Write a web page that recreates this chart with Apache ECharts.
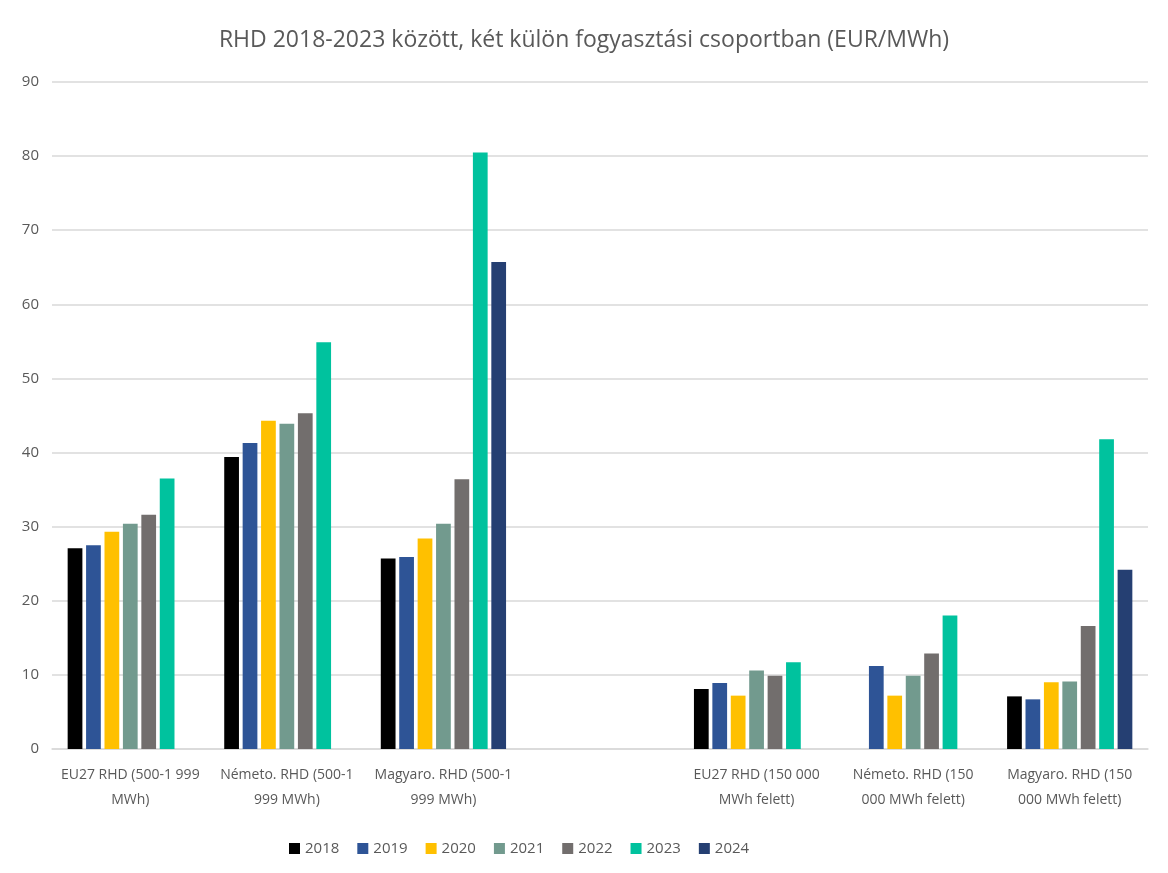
<!DOCTYPE html>
<html>
<head>
<meta charset="utf-8">
<script src="https://cdn.jsdelivr.net/npm/echarts@6/dist/echarts.min.js"></script>
<style>
html,body{margin:0;padding:0;background:#fff;}
#chart{width:1168px;height:873px;}
</style>
</head>
<body>
<div id="chart"></div>
<script>
const titleText = 'RHD 2018-2023 között, két külön fogyasztási csoportban (EUR/MWh)';
const categories = [
  'EU27 RHD (500-1 999\nMWh)',
  'Németo. RHD (500-1\n999 MWh)',
  'Magyaro. RHD (500-1\n999 MWh)',
  '',
  'EU27 RHD (150 000\nMWh felett)',
  'Németo. RHD (150\n000 MWh felett)',
  'Magyaro. RHD (150\n000 MWh felett)'
];
const years = ['2018','2019','2020','2021','2022','2023','2024'];
const v2018 = [27.1, 39.4, 25.7, null, 8.1, null, 7.1];
const v2019 = [27.5, 41.3, 25.9, null, 8.9, 11.2, 6.7];
const v2020 = [29.3, 44.3, 28.4, null, 7.2, 7.2, 9.0];
const v2021 = [30.4, 43.9, 30.4, null, 10.6, 9.9, 9.1];
const v2022 = [31.6, 45.3, 36.4, null, 9.9, 12.9, 16.6];
const v2023 = [36.5, 54.9, 80.5, null, 11.7, 18.0, 41.8];
const v2024 = [null, null, 65.7, null, null, null, 24.2];
const seriesValues = [v2018, v2019, v2020, v2021, v2022, v2023, v2024];
const colors = ['#000000','#2E5496','#FFC000','#729A8E','#726E6D','#00C29E','#253F72'];

const chart = echarts.init(document.getElementById('chart'));
const font = '"Open Sans", "Liberation Sans", sans-serif';
chart.setOption({
  animation: false,
  textStyle: {fontFamily: font},
  title: {
    text: titleText,
    left: 'center',
    top: 24,
    textStyle: {fontSize: 23, fontWeight: 'normal', color: '#595959', fontFamily: font}
  },
  legend: {
    data: years,
    left: 284,
    top: 836,
    itemWidth: 11,
    itemHeight: 11,
    itemGap: 18,
    icon: 'rect',
    textStyle: {fontSize: 15, color: '#595959', fontFamily: font}
  },
  grid: {left: 52, right: 20, top: 82, bottom: 124, containLabel: false},
  xAxis: {
    type: 'category',
    data: categories,
    axisTick: {show: false},
    axisLine: {lineStyle: {color: '#d9d9d9', width: 1.5}},
    axisLabel: {
      interval: 0,
      color: '#595959',
      fontSize: 14,
      lineHeight: 25,
      margin: 14,
      fontFamily: font
    }
  },
  yAxis: {
    type: 'value',
    min: 0,
    max: 90,
    interval: 10,
    axisLine: {show: false},
    axisTick: {show: false},
    splitLine: {lineStyle: {color: '#d9d9d9', width: 1.5}},
    axisLabel: {color: '#595959', fontSize: 15, margin: 13, fontFamily: font}
  },
  series: years.map((y, i) => ({
    name: y,
    type: 'bar',
    data: seriesValues[i],
    itemStyle: {color: colors[i]},
    barGap: '25%',
    barCategoryGap: '20%'
  }))
});
</script>
</body>
</html>
